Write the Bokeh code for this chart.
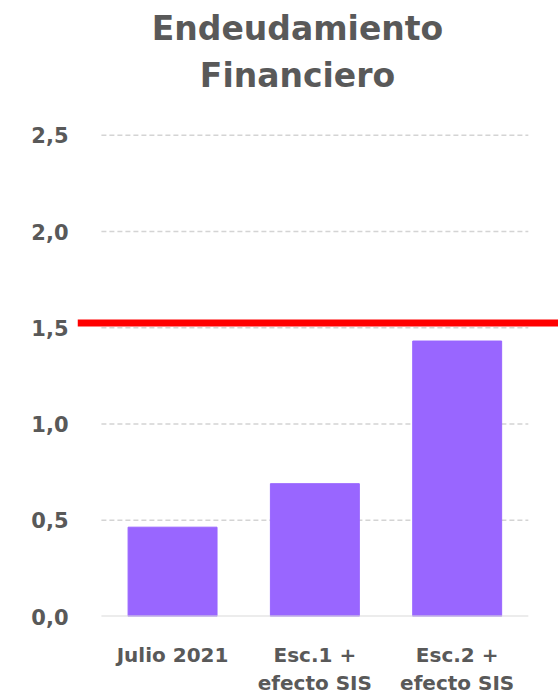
from bokeh.plotting import figure
from bokeh.models import Range1d, FixedTicker, CustomJSTickFormatter, Span, Label
from bokeh.embed import file_html
from bokeh.resources import INLINE

title_lines = ["Endeudamiento", "Financiero"]
categories = ["Julio 2021", "Esc.1 +\nefecto SIS", "Esc.2 +\nefecto SIS"]
values = [0.464, 0.69, 1.431]
limit_value = 1.525
y_ticks = [0.0, 0.5, 1.0, 1.5, 2.0, 2.5]

TXT = "#595959"
FONT = "DejaVu Sans"

xs = list(range(len(categories)))
p = figure(width=558, height=698, output_backend="svg", toolbar_location=None,
           x_range=Range1d(-0.668, len(categories) - 1 + 0.712),
           y_range=Range1d(0, 3.2),
           min_border_left=77, min_border_right=0, min_border_top=0, min_border_bottom=82)
p.outline_line_color = None
p.xgrid.visible = False
p.ygrid.visible = False

# grid lines
x0 = -0.5
x1 = len(categories) - 0.5
gy = [t for t in y_ticks if t > 0]
p.segment(x0=[x0] * len(gy), x1=[x1] * len(gy), y0=gy, y1=gy, line_color="#d4d4d4",
          line_width=1.4, line_dash="5 3")

p.vbar(x=xs, top=values, width=0.625, color="#9966FF")
p.segment(x0=[x0], x1=[x1], y0=[0], y1=[0], line_color="#d9d9d9", line_width=2)

p.add_layout(Span(location=limit_value, dimension="width", line_color="#FF0000", line_width=7))

# title (screen units relative to frame bottom-left)
for i, t in enumerate(title_lines):
    p.add_layout(Label(x=220, y=588 - 47 * i, x_units="screen", y_units="screen", text=t,
                       text_align="center", text_baseline="alphabetic", text_font=FONT,
                       text_font_size="33px", text_font_style="bold", text_color=TXT))

p.xaxis.ticker = FixedTicker(ticks=xs)
p.xaxis.formatter = CustomJSTickFormatter(args=dict(labels=categories),
                                          code="return labels[Math.round(tick)] || '';")
p.yaxis.ticker = FixedTicker(ticks=y_ticks)
p.yaxis.formatter = CustomJSTickFormatter(code="return tick.toFixed(1).replace('.', ',');")
for ax in (p.xaxis, p.yaxis):
    ax.axis_line_color = None
    ax.major_tick_line_color = None
    ax.minor_tick_line_color = None
    ax.major_label_text_color = TXT
    ax.major_label_text_font = FONT
    ax.major_label_text_font_style = "bold"
p.yaxis.major_label_text_font_size = "21px"
p.yaxis.major_label_standoff = 3
p.xaxis.major_label_text_font_size = "20px"
p.xaxis.major_label_standoff = 20

open("out.html", "w").write(file_html(p, INLINE))
